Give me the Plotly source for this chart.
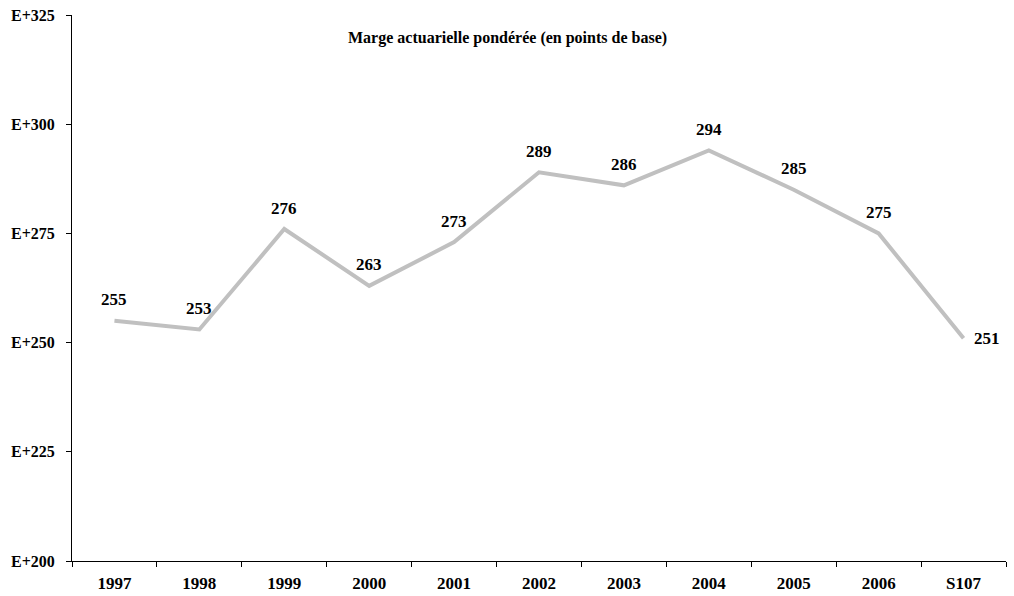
import plotly.graph_objects as go

# Weighted actuarial margin, in basis points
periods = ["1997", "1998", "1999", "2000", "2001", "2002", "2003", "2004", "2005", "2006", "S107"]
margin_bp = [255, 253, 276, 263, 273, 289, 286, 294, 285, 275, 251]

y_ticks = [200, 225, 250, 275, 300, 325]
y_tick_text = ["E+200", "E+225", "E+250", "E+275", "E+300", "E+325"]

serif = "Liberation Serif, Times New Roman, serif"

fig = go.Figure()
fig.add_trace(go.Scatter(
    x=periods,
    y=margin_bp,
    mode="lines",
    line=dict(color="#c0c0c0", width=4),
    hoverinfo="x+y",
))

# value labels: above each point, to the right of the last one
# (positioned by category index so numeric-looking names stay categorical)
annotations = []
for i, v in enumerate(margin_bp):
    last = i == len(periods) - 1
    annotations.append(dict(
        x=i, y=v, xref="x", yref="y",
        text=f"<b>{v}</b>", showarrow=False,
        xanchor="center", yanchor="middle",
        xshift=23 if last else 0, yshift=0 if last else 21,
        font=dict(family=serif, size=17, color="black"),
    ))

annotations.append(dict(
    text="<b>Marge actuarielle pondérée (en points de base)</b>",
    xref="paper", yref="paper", x=0.466, y=0.958,
    xanchor="center", yanchor="middle", showarrow=False,
    font=dict(family=serif, size=16, color="black"),
))

fig.update_layout(
    width=1014,
    height=596,
    margin=dict(l=72, r=8, t=15, b=35),
    paper_bgcolor="white",
    plot_bgcolor="white",
    showlegend=False,
    font=dict(family=serif, color="black"),
    annotations=annotations,
)

fig.update_xaxes(
    type="category",
    range=[-0.5, len(periods) - 0.5],
    showline=True, linecolor="black", linewidth=1,
    ticks="outside", ticklen=5, tickcolor="black",
    tickson="boundaries",
    ticklabelstandoff=7,
    automargin=False,
    showgrid=False, zeroline=False,
    tickfont=dict(family=serif, size=17, color="black", weight="bold"),
)
fig.update_yaxes(
    range=[200, 325],
    tickvals=y_ticks, ticktext=y_tick_text,
    showline=True, linecolor="black", linewidth=1,
    ticks="outside", ticklen=5, tickcolor="black",
    ticklabelstandoff=8,
    automargin=False,
    showgrid=False, zeroline=False,
    tickfont=dict(family=serif, size=16, color="black", weight="bold"),
)

fig.write_html("out.html")
